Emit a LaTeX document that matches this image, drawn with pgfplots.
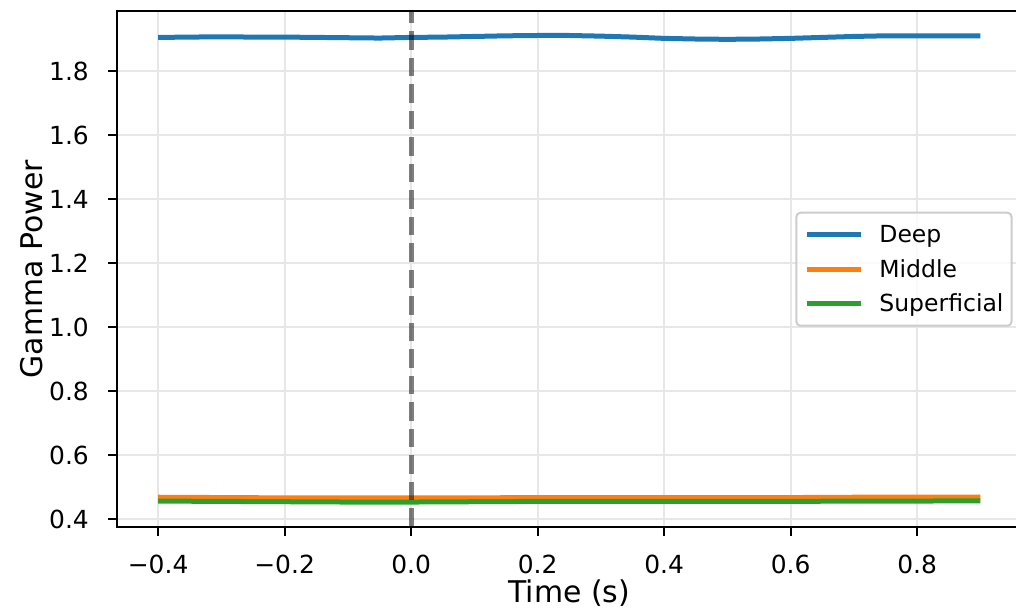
\documentclass[border=0pt]{standalone}
\usepackage{pgfplots}
\pgfplotsset{compat=1.18}
\usepackage{fontspec}
\setmainfont{DejaVu Sans}
\definecolor{tabblue}{HTML}{1F77B4}
\definecolor{taborange}{HTML}{FF7F0E}
\definecolor{tabgreen}{HTML}{2CA02C}
\definecolor{gridc}{HTML}{E7E7E7}
\definecolor{legedge}{HTML}{CCCCCC}
\begin{document}
\begin{tikzpicture}
\begin{axis}[
  at={(0,0)}, anchor=south west,
  scale only axis, width=452.25bp, height=257.75bp,
  xmin=-0.465, xmax=0.965, ymin=0.375, ymax=1.986,
  xtick={-0.4,-0.2,0,0.2,0.4,0.6,0.8},
  xticklabels={−0.4,−0.2,0.0,0.2,0.4,0.6,0.8},
  ytick={0.4,0.6,0.8,1.0,1.2,1.4,1.6,1.8},
  yticklabels={0.4,0.6,0.8,1.0,1.2,1.4,1.6,1.8},
  tick pos=left,
  tick align=outside, major tick length=4.4bp,
  tick style={black, line width=1bp},
  axis line style={line width=1bp},
  grid=major, major grid style={gridc, line width=1bp},
  ticklabel style={font=\fontsize{12.5}{15}\selectfont},
  xticklabel style={anchor=north, inner sep=0pt, yshift=-9.5bp},
  yticklabel style={anchor=east, inner sep=0pt, xshift=-9.5bp},
  xlabel={Time (s)}, ylabel={Gamma Power},
  every axis x label/.style={at={(axis description cs:0.5,-0.1455)}, anchor=base, inner sep=0pt, font=\fontsize{15}{18}\selectfont},
  every axis y label/.style={at={(axis description cs:-0.0829,0.5)}, rotate=90, anchor=base, inner sep=0pt, font=\fontsize{15}{18}\selectfont},
  title={Time Course of Gamma Power by Layer},
  title style={at={(axis description cs:0.8749,1.0332)}, anchor=base east, inner sep=0pt, font=\fontsize{17.5}{21}\selectfont},
  legend style={at={(axis description cs:1,0.5)}, anchor=east, xshift=-4.5bp,
    draw=legedge, line width=1bp, rounded corners=2bp, fill=white, fill opacity=0.8, text opacity=1,
    inner xsep=4bp, inner ysep=5bp, row sep=5.25bp, column sep=8bp,
    font=\fontsize{11.8}{14}\selectfont,
    nodes={inner sep=0pt, text height=10bp, text depth=2bp}},
  legend cell align=left,
  legend image code/.code={\draw[#1, line width=2.5bp] (0bp,0bp) -- (27bp,0bp);},
]
\addplot[tabblue, line width=2.5bp] coordinates {
(-0.40,1.905) (-0.35,1.906) (-0.30,1.907) (-0.25,1.906) (-0.20,1.906) (-0.15,1.905)
(-0.10,1.904) (-0.05,1.903) (0.00,1.905) (0.05,1.906) (0.10,1.908) (0.15,1.910)
(0.20,1.911) (0.25,1.911) (0.30,1.909) (0.35,1.906) (0.40,1.902) (0.45,1.900)
(0.50,1.899) (0.55,1.900) (0.60,1.902) (0.65,1.905) (0.70,1.908) (0.75,1.910)
(0.80,1.910) (0.85,1.910) (0.90,1.910)};
\addlegendentry{Deep}
\addplot[taborange, line width=2.5bp] coordinates {
(-0.4,0.468) (-0.3,0.467) (-0.2,0.466) (-0.1,0.466) (0.0,0.466) (0.1,0.466) (0.2,0.467)
(0.3,0.467) (0.4,0.467) (0.5,0.467) (0.6,0.467) (0.7,0.468) (0.8,0.468) (0.9,0.468)};
\addlegendentry{Middle}
\addplot[tabgreen, line width=2.5bp] coordinates {
(-0.4,0.456) (-0.3,0.455) (-0.2,0.454) (-0.1,0.453) (0.0,0.453) (0.1,0.454) (0.2,0.455)
(0.3,0.455) (0.4,0.455) (0.5,0.455) (0.6,0.455) (0.7,0.456) (0.8,0.456) (0.9,0.457)};
\addlegendentry{Superficial}
\addplot[black, opacity=0.5, line width=2.5bp, dash pattern=on 9.25bp off 4bp, forget plot] coordinates {(0,0.375) (0,1.986)};
\end{axis}
\pgfresetboundingbox
\path[use as bounding box] (-58.5bp,-40.5bp) rectangle (449.5bp,263.5bp);
\end{tikzpicture}
\end{document}
